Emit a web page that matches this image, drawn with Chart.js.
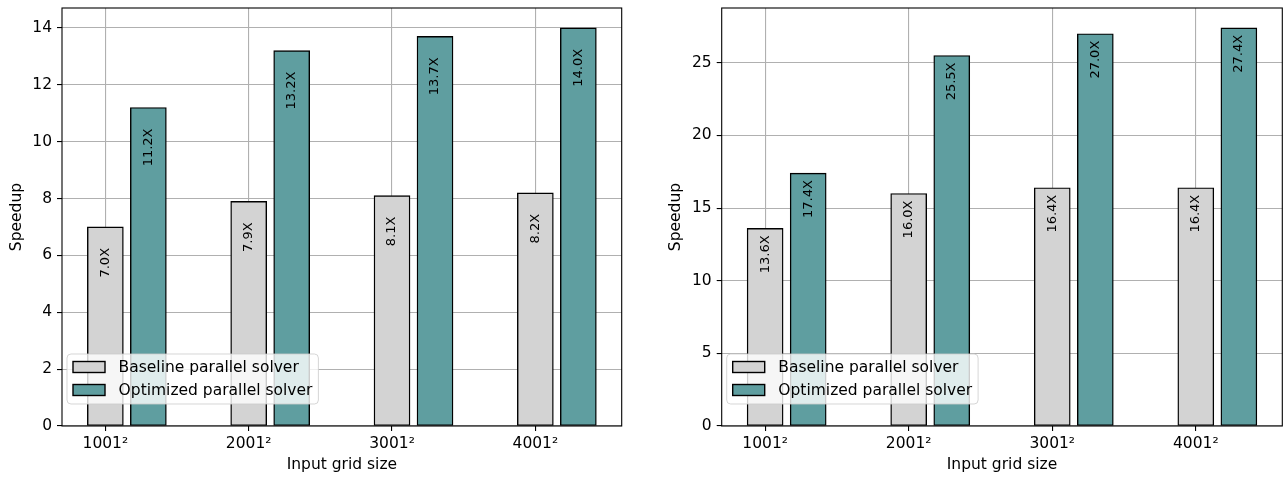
<!DOCTYPE html>
<html>
<head>
<meta charset="utf-8">
<script src="https://cdn.jsdelivr.net/npm/chart.js@4.4.0/dist/chart.umd.min.js"></script>
<style>
  html, body { margin: 0; padding: 0; background: #fff; }
  #wrap { position: relative; width: 1283px; height: 479px; }
  canvas { position: absolute; top: 0; }
</style>
</head>
<body>
<div id="wrap">
  <canvas id="leftChart" width="641" height="479" style="left:0"></canvas>
  <canvas id="rightChart" width="642" height="479" style="left:641px"></canvas>
</div>
<script>
// data
const gridSizes = ['1001²', '2001²', '3001²', '4001²'];
const seriesNames = ['Baseline parallel solver', 'Optimized parallel solver'];
const leftBaseline = [7.0, 7.9, 8.1, 8.2];
const leftOptimized = [11.2, 13.2, 13.7, 14.0];
const rightBaseline = [13.6, 16.0, 16.4, 16.4];
const rightOptimized = [17.4, 25.5, 27.0, 27.4];
const leftYTicks = [0, 2, 4, 6, 8, 10, 12, 14];
const rightYTicks = [0, 5, 10, 15, 20, 25];

const barColors = ['#d3d3d3', '#5f9ea0'];
const FONT = 'DejaVu Sans';
Chart.defaults.font.family = FONT;
Chart.defaults.color = '#000';

// bar value text, rotated, just under the top of each bar
const barText = {
  id: 'barText',
  afterDraw(chart, args, opts) {
    const ctx = chart.ctx;
    ctx.save();
    ctx.font = '13px "' + FONT + '"';
    ctx.fillStyle = '#000';
    ctx.textAlign = 'right';
    ctx.textBaseline = 'middle';
    chart.data.datasets.forEach((ds, di) => {
      chart.getDatasetMeta(di).data.forEach((el, i) => {
        ctx.save();
        ctx.translate(el.x, el.y + opts.offset);
        ctx.rotate(-Math.PI / 2);
        ctx.fillText(ds.data[i].y.toFixed(1) + 'X', 0, 0);
        ctx.restore();
      });
    });
    ctx.restore();
  }
};

// full box of spines + legend inside the plot
const frameAndLegend = {
  id: 'frameAndLegend',
  afterDraw(chart) {
    const ctx = chart.ctx;
    const a = chart.chartArea;
    ctx.save();
    ctx.strokeStyle = '#000';
    ctx.lineWidth = 1.1;
    ctx.strokeRect(a.left, a.top, a.right - a.left, a.bottom - a.top);

    ctx.font = '15.5px "' + FONT + '"';
    const names = chart.data.datasets.map(d => d.label);
    const tw = Math.max(...names.map(n => ctx.measureText(n).width));
    const x = a.left + 5, y = a.bottom - 72;
    const w = 51.6 + tw + 6, h = 50;
    ctx.beginPath();
    ctx.roundRect(x, y, w, h, 4);
    ctx.fillStyle = 'rgba(255,255,255,0.8)';
    ctx.fill();
    ctx.strokeStyle = 'rgba(204,204,204,0.8)';
    ctx.lineWidth = 1;
    ctx.stroke();
    names.forEach((n, i) => {
      const cy = y + 13 + i * 23;
      ctx.fillStyle = barColors[i];
      ctx.fillRect(x + 6, cy - 5.5, 32, 11);
      ctx.strokeStyle = '#000';
      ctx.lineWidth = 1.4;
      ctx.strokeRect(x + 6, cy - 5.5, 32, 11);
      ctx.fillStyle = '#000';
      ctx.textAlign = 'left';
      ctx.textBaseline = 'middle';
      ctx.fillText(n, x + 51.6, cy + 1);
    });
    ctx.restore();
  }
};

function makeChart(id, baseline, optimized, yTicks, yMax, yAxisWidth, padRight, titlePad, labelOffset) {
  const ctx = document.getElementById(id).getContext('2d');
  return new Chart(ctx, {
    type: 'bar',
    data: {
      datasets: [
        {
          label: seriesNames[0],
          data: baseline.map((v, i) => ({ x: i, y: v })),
          backgroundColor: barColors[0],
        },
        {
          label: seriesNames[1],
          data: optimized.map((v, i) => ({ x: i + 0.3, y: v })),
          backgroundColor: barColors[1],
        }
      ]
    },
    options: {
      responsive: false,
      animation: false,
      devicePixelRatio: 1,
      layout: { padding: { top: 8, right: padRight, left: 0, bottom: 0 } },
      datasets: {
        bar: {
          grouped: false,
          barThickness: 36,
          borderColor: '#000',
          borderWidth: 1.4,
          borderSkipped: false,
        }
      },
      plugins: {
        legend: { display: false },
        tooltip: { enabled: false },
        barText: { offset: labelOffset },
      },
      scales: {
        x: {
          type: 'linear',
          min: -0.3025,
          max: 3.6025,
          offset: false,
          z: 1,
          afterBuildTicks: s => { s.ticks = gridSizes.map((g, i) => ({ value: i })); },
          afterFit: s => { s.height = 53; s.paddingLeft = 0; s.paddingRight = 0; },
          ticks: {
            autoSkip: false,
            maxRotation: 0,
            padding: 4,
            font: { size: 15.5 },
            callback: v => gridSizes[v],
          },
          grid: {
            offset: false,
            color: '#b0b0b0',
            lineWidth: 1.1,
            tickColor: '#000',
            tickLength: 5,
          },
          border: { display: false },
          title: {
            display: true,
            text: 'Input grid size',
            font: { size: 15.5 },
            padding: { top: 0, bottom: 5 },
          }
        },
        y: {
          min: 0,
          max: yMax,
          z: 1,
          afterBuildTicks: s => { s.ticks = yTicks.map(v => ({ value: v })); },
          afterFit: s => { s.width = yAxisWidth; s.paddingTop = 0; s.paddingBottom = 0; },
          ticks: { padding: 5, font: { size: 15.5 } },
          grid: {
            color: '#b0b0b0',
            lineWidth: 1.1,
            tickColor: '#000',
            tickLength: 5,
          },
          border: { display: false },
          title: {
            display: true,
            text: 'Speedup',
            font: { size: 15.5 },
            padding: { top: titlePad, bottom: 0 },
          }
        }
      }
    },
    plugins: [barText, frameAndLegend]
  });
}

makeChart('leftChart', leftBaseline, leftOptimized, leftYTicks, 14.7, 62, 19.3, 7.6, 21);
makeChart('rightChart', rightBaseline, rightOptimized, rightYTicks, 28.77, 80.7, 0.7, 26.1, 7);
</script>
</body>
</html>
